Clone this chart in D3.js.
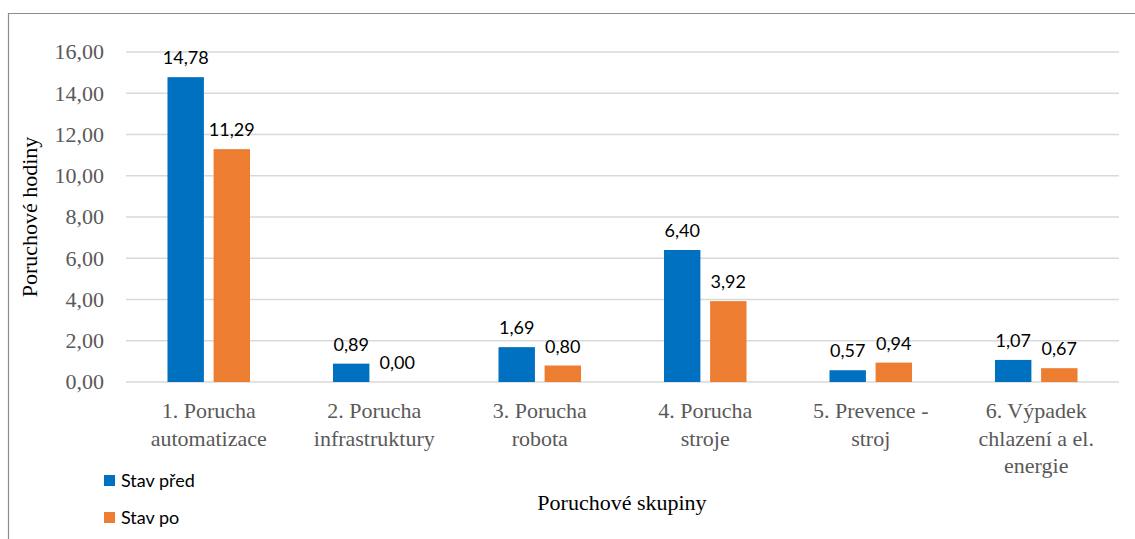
<!DOCTYPE html>
<html>
<head>
<meta charset="utf-8">
<script src="https://cdn.jsdelivr.net/npm/d3@7"></script>
</head>
<body style="margin:0;background:#fff">
<svg id="chart" width="1135" height="539" font-family="Liberation Serif" style="display:block"></svg>
<script>
// Fault groups (category axis, multi-line labels)
const categories = [
  ["1. Porucha", "automatizace"],
  ["2. Porucha", "infrastruktury"],
  ["3. Porucha", "robota"],
  ["4. Porucha", "stroje"],
  ["5. Prevence -", "stroj"],
  ["6. Výpadek", "chlazení a el.", "energie"]
];
const seriesNames = ["Stav před", "Stav po"];
const valuesBefore = [14.78, 0.89, 1.69, 6.40, 0.57, 1.07];
const valuesAfter = [11.29, 0.00, 0.80, 3.92, 0.94, 0.67];
const yTicks = [0, 2, 4, 6, 8, 10, 12, 14, 16];
const colors = ["#0070C0", "#ED7D31"];

const SERIF = "'Liberation Serif', 'Times New Roman', Tinos, FreeSerif, serif";
const SANS = "Lato, 'Open Sans', sans-serif";

const svg = d3.select("#chart");
const fmt = v => v.toFixed(2).replace(".", ",");

// apply a font family both as presentation attribute and inline style
const font = (sel, fam, size) => sel
  .attr("font-family", fam).attr("font-size", size)
  .style("font-family", fam, "important").style("font-size", size + "px");

const plotLeft = 126, plotRight = 1119, plotTop = 52, plotBottom = 382;

const x = d3.scaleBand().domain(d3.range(categories.length)).range([plotLeft, plotRight]);
const xs = d3.scaleBand().domain([0, 1]).range([0, x.bandwidth()]).paddingInner(0.21).paddingOuter(0.9);
const y = d3.scaleLinear().domain([0, 16]).range([plotBottom, plotTop]);

// chart frame (left and top edges)
svg.append("path")
  .attr("d", `M8.5,539 V13.5 H1135`)
  .attr("fill", "none").attr("stroke", "#8c8c8c").attr("stroke-width", 1.2);

// gridlines
svg.append("g").selectAll("line").data(yTicks).join("line")
  .attr("x1", plotLeft).attr("x2", plotRight)
  .attr("y1", d => y(d)).attr("y2", d => y(d))
  .attr("stroke", "#d9d9d9").attr("stroke-width", 1.6);

// y tick labels, right-aligned against the plot
svg.append("g").selectAll("text").data(yTicks).join("text")
  .attr("x", 104).attr("y", d => y(d)).attr("dy", "0.33em")
  .attr("text-anchor", "end")
  .attr("fill", "#595959")
  .call(font, SERIF, 22)
  .text(fmt);

const series = [valuesBefore, valuesAfter];
series.forEach((vals, si) => {
  const g = svg.append("g");
  g.selectAll("rect").data(vals).join("rect")
    .attr("x", (d, i) => x(i) + xs(si))
    .attr("width", xs.bandwidth())
    .attr("y", d => y(d))
    .attr("height", d => y(0) - y(d))
    .attr("fill", colors[si]);
  g.selectAll("text").data(vals).join("text")
    .attr("x", (d, i) => x(i) + xs(si) + xs.bandwidth() / 2)
    .attr("y", d => y(d) - 13)
    .attr("text-anchor", "middle")
    .attr("fill", "#000")
    .call(font, SANS, 18)
    .text(fmt);
});

// category labels
categories.forEach((lines, i) => {
  const cx = x(i) + x.bandwidth() / 2;
  lines.forEach((ln, k) => {
    svg.append("text")
      .attr("x", cx)
      .attr("y", 418 + k * 27.5)
      .attr("text-anchor", "middle")
      .attr("fill", "#595959")
      .call(font, SERIF, 22)
      .text(ln);
  });
});

// axis titles
svg.append("text")
  .attr("transform", "translate(37,217) rotate(-90)")
  .attr("text-anchor", "middle")
  .attr("fill", "#000")
  .call(font, SERIF, 22)
  .text("Poruchové hodiny");
svg.append("text")
  .attr("x", 622).attr("y", 510)
  .attr("text-anchor", "middle")
  .attr("fill", "#000")
  .call(font, SERIF, 22)
  .text("Poruchové skupiny");

// legend
seriesNames.forEach((name, i) => {
  const yy = 475 + i * 37;
  svg.append("rect").attr("x", 104).attr("y", yy).attr("width", 11).attr("height", 11).attr("fill", colors[i]);
  svg.append("text").attr("x", 121).attr("y", yy + 11.5)
    .attr("fill", "#000")
    .call(font, SANS, 18)
    .text(name);
});
</script>
</body>
</html>
